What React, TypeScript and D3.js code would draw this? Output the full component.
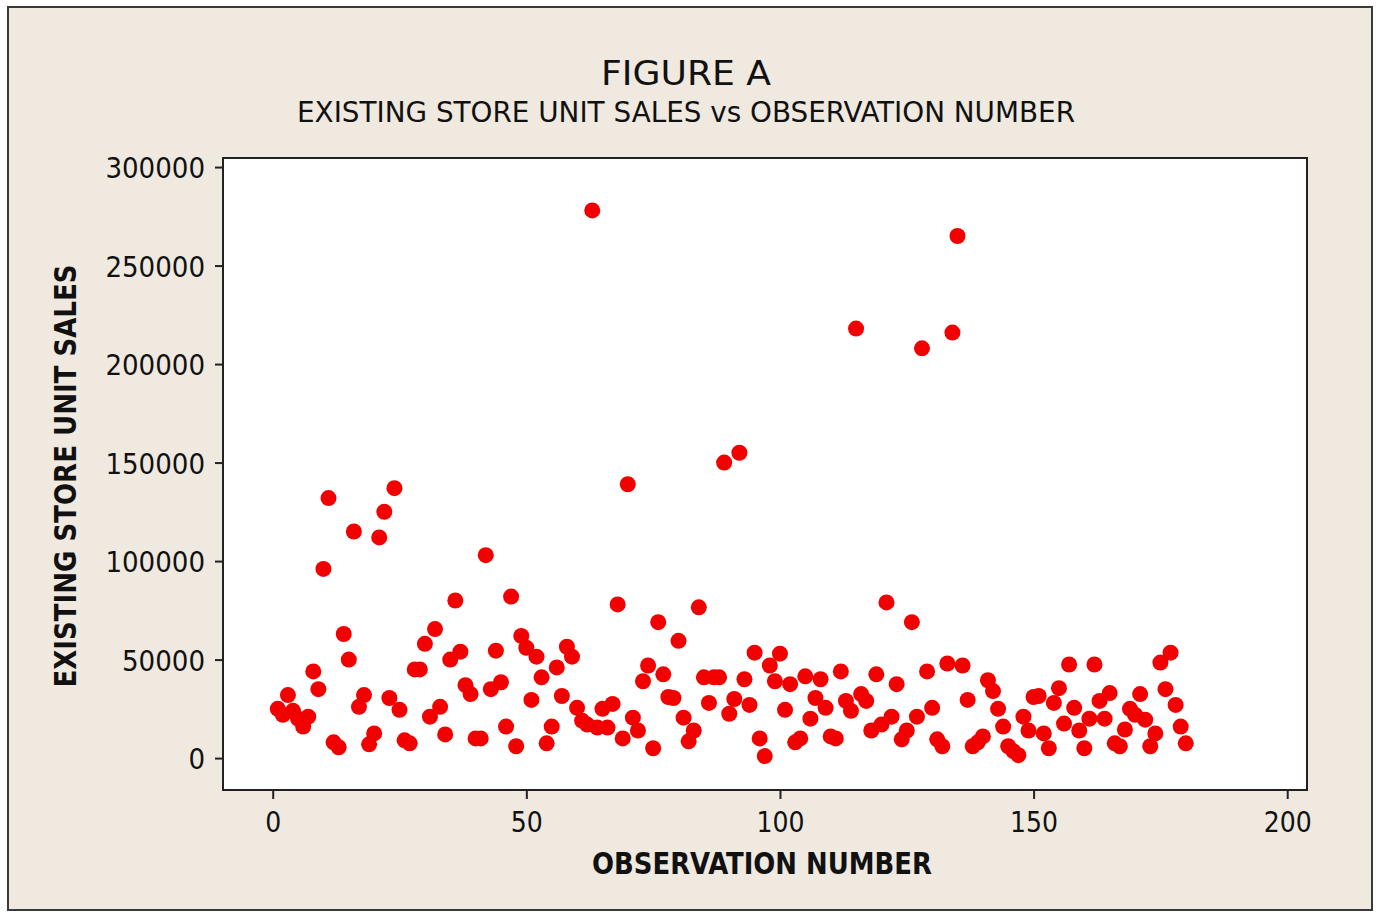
import React, { useEffect, useRef } from 'react';
import * as d3 from 'd3';

// existing store unit sales, one value per observation (obs 1..180)
const unitSales = [
  25000, 22000, 32000, 24000, 20000, 16000, 21000, 44000, 35000, 96000,
  132000, 8000, 5500, 63000, 50000, 115000, 26000, 32000, 7000, 12500,
  112000, 125000, 30500, 137000, 24500, 9000, 7500, 45000, 45000, 58000,
  21000, 65500, 26000, 12000, 50000, 80000, 54000, 37000, 32500, 10000,
  10000, 103000, 35000, 54500, 38500, 16000, 82000, 6000, 62000, 56000,
  29500, 51500, 41000, 7500, 16000, 46000, 31500, 56500, 51500, 25500,
  19000, 17000, 278000, 15500, 25000, 15500, 27500, 78000, 10000, 139000,
  20500, 14000, 39000, 47000, 5000, 69000, 42500, 31000, 30500, 59500,
  20500, 8500, 14000, 76500, 41000, 28000, 41000, 41000, 150000, 22500,
  30000, 155000, 40000, 27000, 53500, 10000, 1000, 47000, 39000, 53000,
  24500, 37500, 8000, 10000, 41500, 20000, 30500, 40000, 25500, 11000,
  10000, 44000, 29000, 24000, 218000, 32500, 29000, 14000, 42500, 17000,
  79000, 21000, 37500, 9500, 14000, 69000, 21000, 208000, 44000, 25500,
  9500, 6000, 48000, 216000, 265000, 47000, 29500, 6000, 8000, 11000,
  39500, 34000, 25000, 16000, 6000, 3500, 1500, 21000, 14000, 31000,
  31500, 12500, 5000, 28000, 35500, 17500, 47500, 25500, 14000, 5000,
  20000, 47500, 29000, 20000, 33000, 7500, 6000, 14500, 25000, 22000,
  32500, 19500, 6000, 12500, 48500, 35000, 53500, 27000, 16000, 7500,
];
const obsNumbers = unitSales.map((_, i) => i + 1);

const xTicks = [0, 50, 100, 150, 200];
const yTicks = [0, 50000, 100000, 150000, 200000, 250000, 300000];

const W = 1380;
const H = 913;
const FONT = "'DejaVu Sans Condensed', 'Liberation Sans Narrow', 'DejaVu Sans', sans-serif";

export default function App() {
  const ref = useRef<SVGSVGElement>(null);

  useEffect(() => {
    const svg = d3.select(ref.current);
    svg.selectAll('*').remove();

    const left = 223, top = 158, right = 1307, bottom = 790;

    const x = d3.scaleLinear().domain([-9.8, 203.9]).range([left, right]);
    const y = d3.scaleLinear().domain([-16200, 304600]).range([bottom, top]);

    // outer frame
    svg.append('rect')
      .attr('x', 8).attr('y', 7)
      .attr('width', 1364).attr('height', 903)
      .attr('fill', '#efe9e0')
      .attr('stroke', '#3a3a3a')
      .attr('stroke-width', 2);

    // titles
    svg.append('text')
      .attr('x', 686).attr('y', 85)
      .attr('text-anchor', 'middle')
      .attr('font-family', FONT).attr('font-size', 33)
      .attr('textLength', 170).attr('lengthAdjust', 'spacingAndGlyphs')
      .attr('fill', '#111')
      .text('FIGURE A');

    svg.append('text')
      .attr('x', 686).attr('y', 122)
      .attr('text-anchor', 'middle')
      .attr('font-family', FONT).attr('font-size', 29)
      .attr('textLength', 778).attr('lengthAdjust', 'spacingAndGlyphs')
      .attr('fill', '#111')
      .text('EXISTING STORE UNIT SALES vs OBSERVATION NUMBER');

    // plot area
    svg.append('rect')
      .attr('x', left).attr('y', top)
      .attr('width', right - left).attr('height', bottom - top)
      .attr('fill', '#ffffff')
      .attr('stroke', '#222')
      .attr('stroke-width', 2);

    // y axis
    const yAxis = svg.append('g')
      .attr('transform', `translate(${left},0)`)
      .call(d3.axisLeft(y).tickValues(yTicks).tickSize(8).tickPadding(10).tickFormat(d3.format('d')));
    yAxis.select('.domain').remove();
    yAxis.selectAll('line').attr('stroke', '#222').attr('stroke-width', 2);
    yAxis.selectAll('text')
      .attr('font-family', FONT).attr('font-size', 29).attr('fill', '#111')
      .attr('dy', '0.36em')
      .attr('textLength', (d: any) => String(d).length * 16.6)
      .attr('lengthAdjust', 'spacingAndGlyphs');

    // x axis
    const xAxis = svg.append('g')
      .attr('transform', `translate(0,${bottom})`)
      .call(d3.axisBottom(x).tickValues(xTicks).tickSize(9).tickPadding(12).tickFormat(d3.format('d')));
    xAxis.select('.domain').remove();
    xAxis.selectAll('line').attr('stroke', '#222').attr('stroke-width', 2);
    xAxis.selectAll('text')
      .attr('font-family', FONT).attr('font-size', 29).attr('fill', '#111')
      .attr('textLength', (d: any) => String(d).length * 16)
      .attr('lengthAdjust', 'spacingAndGlyphs');

    // axis titles
    svg.append('text')
      .attr('x', 762).attr('y', 874)
      .attr('text-anchor', 'middle')
      .attr('font-family', FONT).attr('font-size', 30).attr('font-weight', 'bold')
      .attr('textLength', 340).attr('lengthAdjust', 'spacingAndGlyphs')
      .attr('fill', '#111')
      .text('OBSERVATION NUMBER');

    svg.append('text')
      .attr('transform', 'translate(76,476) rotate(-90)')
      .attr('text-anchor', 'middle')
      .attr('font-family', FONT).attr('font-size', 30).attr('font-weight', 'bold')
      .attr('textLength', 423).attr('lengthAdjust', 'spacingAndGlyphs')
      .attr('fill', '#111')
      .text('EXISTING STORE UNIT SALES');

    // points
    svg.append('g')
      .selectAll('circle')
      .data(unitSales)
      .join('circle')
      .attr('cx', (_, i) => x(obsNumbers[i]))
      .attr('cy', d => y(d))
      .attr('r', 8)
      .attr('fill', '#f20000');
  }, []);

  return (
    <svg
      ref={ref}
      width={W}
      height={H}
      style={{ position: 'absolute', left: 0, top: 0, background: '#ffffff' }}
    />
  );
}
